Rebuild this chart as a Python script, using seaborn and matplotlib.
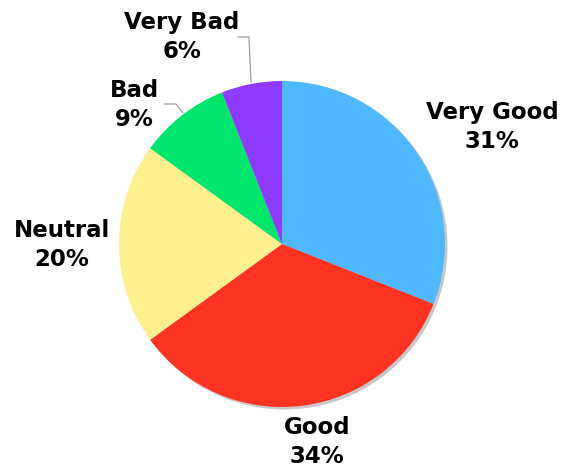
import matplotlib
matplotlib.use("Agg")
import matplotlib.pyplot as plt
import seaborn as sns

categories = ["Very Good", "Good", "Neutral", "Bad", "Very Bad"]
values = [31, 34, 20, 9, 6]
colors = ["#4FB8FF", "#FF3322", "#FFF08F", "#00E56B", "#8E3BFF"]

sns.set_theme(style="white")
plt.rcParams["font.family"] = ["DejaVu Sans"]

W, H = 562, 469
fig = plt.figure(figsize=(W / 100, H / 100), dpi=100)
ax = fig.add_axes([0, 0, 1, 1])

cx, cy, r = 282, H - 244, 163

# soft drop shadow behind the pie
ax.pie([1], colors=["#C8C8C8"], radius=r, center=(cx + 2.5, cy - 2.5),
       wedgeprops=dict(linewidth=0))
wedges, _ = ax.pie(values, colors=colors, radius=r, center=(cx, cy),
                   startangle=90, counterclock=False,
                   wedgeprops=dict(linewidth=0))

ax.set_xlim(0, W)
ax.set_ylim(0, H)
ax.set_aspect("equal")
ax.axis("off")

# label positions (pixel coordinates from top-left)
label_pos = {
    "Very Good": (492, 127),
    "Good": (317, 442),
    "Neutral": (62, 245),
    "Bad": (134, 105),
    "Very Bad": (182, 37),
}
for cat, val in zip(categories, values):
    x, y = label_pos[cat]
    ax.text(x, H - y, f"{cat}\n{val}%", ha="center", va="center",
            fontsize=16.5, fontweight="bold", color="black", linespacing=1.3)

# leader lines for the small slices
line_kw = dict(color="#A0A0A0", linewidth=0.9)
ax.plot([251, 249, 238], [H - 82, H - 37, H - 37], **line_kw)
ax.plot([183, 176, 164], [H - 113, H - 104, H - 104], **line_kw)

fig.savefig("out.png", dpi=100, facecolor="white")
